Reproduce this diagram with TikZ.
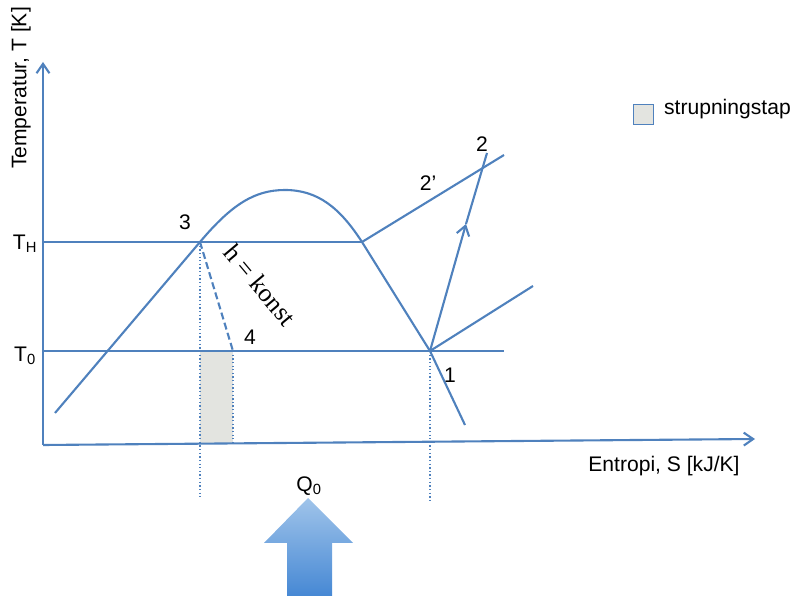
\documentclass[tikz,border=0pt]{standalone}
\usepackage{fontspec}
\setmainfont{Liberation Sans}
\newfontfamily\serifschrift{Liberation Serif}
\usetikzlibrary{arrows.meta}
\definecolor{linie}{RGB}{79,129,189}
\definecolor{strup}{RGB}{227,228,224}
\definecolor{pilhell}{RGB}{160,196,234}
\definecolor{pilmork}{RGB}{70,136,212}
\def\punkt#1#2{ ({0.03*(#1)},{-0.03*(#2)}) }
\def\stelle#1#2#3{
	\path \punkt{#2}{#3} coordinate (#1);
}
\def\etikett#1#2#3#4{
	\node (#1) at \punkt{#2}{#3} {#4};
}
\tikzset{
	kurve/.style={draw=linie,line width=1.8pt},
	hjelp/.style={draw=linie,line width=1.1pt,dotted},
	schrift/.style={font=\fontsize{18}{21}\selectfont}
}

\begin{document}
\begin{tikzpicture}[>={Straight Barb[length=8pt,width=11pt]},every node/.style={schrift}]
\useasboundingbox \punkt{0}{0} rectangle \punkt{798}{596};
% punkter
\stelle{o}{43}{445}
\stelle{ytopp}{43}{62}
\stelle{xende}{755}{439}
\stelle{thv}{43}{242}
\stelle{t0v}{43}{351}
\stelle{t0h}{504}{351}
\stelle{p1}{430}{351}
\stelle{p2}{487}{153}
\stelle{p3}{200}{242}
\stelle{p4}{233}{351}
\stelle{pd}{362}{242}
\stelle{pm}{466}{224}
\stelle{isoa}{504}{155}
\stelle{isob}{533}{286}
\stelle{venstre}{55}{413}
\stelle{hoyre}{465}{425}
\stelle{topp}{285}{190}
\stelle{k1}{232}{204}
\stelle{k2}{255}{190}
\stelle{k3}{318}{190}
\stelle{k4}{340}{208}
\stelle{s3}{200}{497}
\stelle{s4}{233}{443}
\stelle{s1}{430}{500}
% strupningstap
\fill[color=strup] \punkt{200}{351} rectangle \punkt{233}{443};
% akser
\draw[kurve,->] (o) -- (ytopp);
\draw[kurve,->] (o) -- (xende);
% isotermer
\draw[kurve] (thv) -- (pd);
\draw[kurve] (t0v) -- (t0h);
% metningskurve
\draw[kurve] (venstre) -- (p3)
	.. controls (k1) and (k2) .. (topp)
	.. controls (k3) and (k4) .. (pd)
	-- (p1) -- (hoyre);
\draw[kurve] (pd) -- (isoa);
\draw[kurve] (p1) -- (isob);
\draw[kurve,->] (p1) -- (pm);
\draw[kurve] (pm) -- (p2);
\draw[kurve,dash pattern=on 6pt off 3pt] (p3) -- (p4);
% hjelpelinjer
\draw[hjelp] (p3) -- (s3);
\draw[hjelp] (p4) -- (s4);
\draw[hjelp] (p1) -- (s1);
% tekster
\etikett{th}{25}{244}{T\textsubscript{H}}
\etikett{tn}{25}{356}{T\textsubscript{0}}
\node (ytekst) [rotate=90] at \punkt{21}{88} {Temperatur, T [K]};
\etikett{xtekst}{664}{466}{Entropi, S [kJ/K]}
\etikett{n1}{450}{375}{1}
\etikett{n2}{482}{144}{2}
\etikett{n2s}{428}{183}{2’}
\etikett{n3}{185}{222}{3}
\etikett{n4}{250}{337}{4}
\node (konst) [rotate=-50,inner sep=0pt,font=\serifschrift\fontsize{22}{24}\selectfont] at \punkt{260}{285} {h = konst};
% legende
\node (legboks) [draw=linie,line width=0.8pt,fill=strup,minimum size=0.6cm,inner sep=0pt] at \punkt{643}{114} {};
\node (legtekst) [anchor=west] at \punkt{660}{109} {strupningstap};
% varme inn
\shade[top color=pilhell,bottom color=pilmork]
	\punkt{308}{498} -- \punkt{353}{543} -- \punkt{332}{543} -- \punkt{332}{596}
	-- \punkt{287}{596} -- \punkt{287}{543} -- \punkt{264}{543} -- cycle;
\etikett{q0}{309}{486}{Q\textsubscript{0}}
\end{tikzpicture}
\end{document}
